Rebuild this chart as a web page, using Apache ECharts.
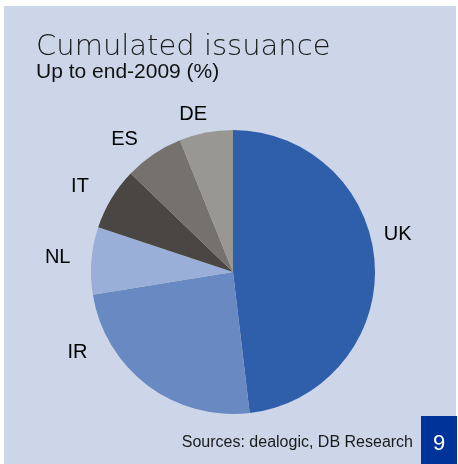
<!DOCTYPE html>
<html>
<head>
<meta charset="utf-8">
<script src="https://cdn.jsdelivr.net/npm/echarts@6/dist/echarts.min.js"></script>
<style>
  html, body { margin: 0; padding: 0; background: #ffffff; }
  #chart { width: 458px; height: 464px; }
</style>
</head>
<body>
<div id="chart"></div>
<script>
// Cumulated covered-bond issuance by country, share in percent
const countries = ['UK', 'IR', 'NL', 'IT', 'ES', 'DE'];
const shares = [48.1, 24.3, 7.65, 7.1, 6.7, 6.1];

// Slice colours, in the same order as the countries
const sliceColors = ['#2f5eab', '#6889c1', '#9aafd7', '#4a4644', '#75726e', '#999792'];

// Small nudges for the outside labels [dx, dy]
const labelNudge = [[-6, -29], [-49, -41], [-6, -2], [-9, -7], [-5, -7], [8, -8]];

const chart = echarts.init(document.getElementById('chart'), null, { renderer: 'canvas' });

chart.setOption({
  backgroundColor: '#ffffff',
  animation: false,
  title: {
    text: 'Cumulated issuance',
    subtext: 'Up to end-2009 (%)',
    left: 31,
    top: 28,
    itemGap: 0,
    textStyle: {
      fontFamily: 'DejaVu Sans',
      fontWeight: 200,
      fontSize: 29,
      color: '#1a1a1a'
    },
    subtextStyle: {
      fontFamily: 'Liberation Sans, Arial, sans-serif',
      fontSize: 21,
      color: '#111111'
    }
  },
  graphic: [
    {
      type: 'rect',
      z: -10,
      silent: true,
      shape: { x: 4, y: 6, width: 452, height: 458 },
      style: { fill: '#ccd6e8' }
    },
    {
      type: 'text',
      silent: true,
      style: {
        x: 413, y: 443,
        text: 'Sources: dealogic, DB Research',
        align: 'right',
        verticalAlign: 'middle',
        font: '16px "Liberation Sans", Arial, sans-serif',
        fill: '#1a1a1a'
      }
    },
    {
      type: 'rect',
      silent: true,
      shape: { x: 421, y: 416, width: 36, height: 48 },
      style: { fill: '#003399' }
    },
    {
      type: 'text',
      silent: true,
      style: {
        x: 439, y: 444,
        text: '9',
        align: 'center',
        verticalAlign: 'middle',
        font: '22px "Liberation Sans", Arial, sans-serif',
        fill: '#ffffff'
      }
    }
  ],
  series: [{
    type: 'pie',
    center: [233, 272],
    radius: 142,
    startAngle: 90,
    clockwise: true,
    avoidLabelOverlap: false,
    label: {
      show: true,
      position: 'outside',
      formatter: '{b}',
      fontFamily: 'Liberation Sans, Arial, sans-serif',
      fontSize: 20,
      color: '#000000'
    },
    labelLine: { show: false, length: 10, length2: 0 },
    labelLayout: function (params) {
      const n = labelNudge[params.dataIndex];
      return { dx: n[0], dy: n[1] };
    },
    emphasis: { disabled: true },
    itemStyle: { borderWidth: 0 },
    data: countries.map(function (c, i) {
      return { name: c, value: shares[i], itemStyle: { color: sliceColors[i] } };
    })
  }]
});
</script>
</body>
</html>
